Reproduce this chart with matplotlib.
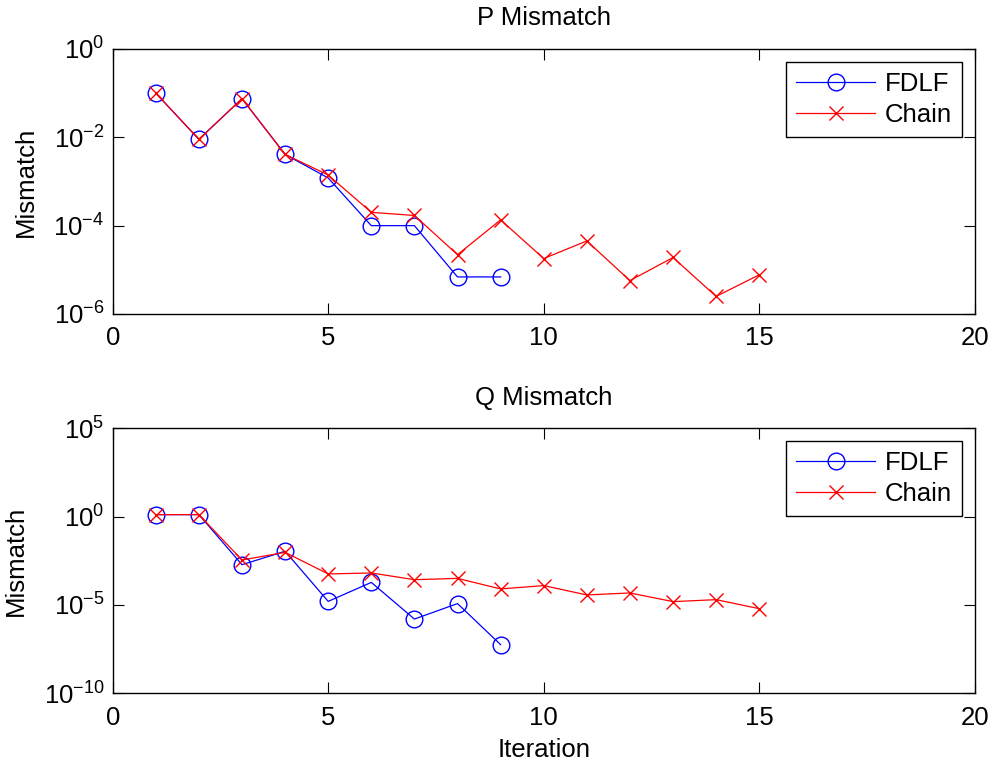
import matplotlib
matplotlib.use("Agg")
import matplotlib.pyplot as plt
import numpy as np

plt.rcParams['font.family'] = ['Liberation Sans', 'DejaVu Sans']
plt.rcParams['mathtext.fontset'] = 'custom'
plt.rcParams['mathtext.rm'] = 'Liberation Sans'
plt.rcParams['mathtext.it'] = 'Liberation Sans'
plt.rcParams['mathtext.default'] = 'regular'

# ---- data ----
p_fdlf_iter = [1, 2, 3, 4, 5, 6, 7, 8, 9]
p_fdlf = [0.1, 0.009, 0.075, 0.0041, 0.0012, 1.0e-4, 1.0e-4, 6.9e-6, 6.9e-6]
p_chain_iter = list(range(1, 16))
p_chain = [0.1, 0.009, 0.075, 0.0041, 0.0014, 2.0e-4, 1.7e-4, 2.2e-5, 1.35e-4,
           1.8e-5, 4.5e-5, 5.7e-6, 1.9e-5, 2.5e-6, 7.7e-6]

q_fdlf_iter = [1, 2, 3, 4, 5, 6, 7, 8, 9]
q_fdlf = [1.3, 1.3, 1.9e-3, 0.011, 1.6e-5, 1.9e-4, 1.6e-6, 1.2e-5, 5.7e-8]
q_chain_iter = list(range(1, 16))
q_chain = [1.3, 1.3, 3.5e-3, 9.5e-3, 5.7e-4, 6.5e-4, 2.7e-4, 3.2e-4, 8.1e-5,
           1.25e-4, 3.7e-5, 4.8e-5, 1.55e-5, 2.0e-5, 6.2e-6]

p_yticks = [1e0, 1e-2, 1e-4, 1e-6]
p_yticklabels = [r'$10^{0}$', r'$10^{-2}$', r'$10^{-4}$', r'$10^{-6}$']
q_yticks = [1e5, 1e0, 1e-5, 1e-10]
q_yticklabels = [r'$10^{5}$', r'$10^{0}$', r'$10^{-5}$', r'$10^{-10}$']
xticks = [0, 5, 10, 15, 20]

FS = 18.5
fig = plt.figure(figsize=(9.92, 7.63), dpi=100)
ax1 = fig.add_axes([0.1136, 0.5885, 0.869, 0.3473])
ax2 = fig.add_axes([0.1136, 0.0913, 0.869, 0.3474])

def style(ax, yticks, ylabels, ylim, title):
    ax.set_yscale('log')
    ax.set_xlim(0, 20)
    ax.set_ylim(*ylim)
    ax.set_xticks(xticks)
    ax.set_xticklabels([str(t) for t in xticks], fontsize=FS)
    ax.set_yticks(yticks)
    ax.set_yticklabels(ylabels, fontsize=FS)
    ax.minorticks_off()
    ax.tick_params(axis='both', which='both', direction='in', top=True, right=True,
                   length=8, width=0.8)
    ax.tick_params(axis='x', pad=9)
    ax.tick_params(axis='y', pad=6)
    for s in ax.spines.values():
        s.set_linewidth(1.0)
    ax.set_title(title, fontsize=FS, pad=17)
    ax.set_ylabel('Mismatch', fontsize=FS, labelpad=11)

ax1.plot(p_fdlf_iter, p_fdlf, color='#0000ff', lw=0.9, marker='o', ms=12,
         mfc='none', mec='#0000ff', mew=1.0, label='FDLF')
ax1.plot(p_chain_iter, p_chain, color='#ff0000', lw=0.9, marker='x', ms=10,
         mew=1.0, label='Chain')
style(ax1, p_yticks, p_yticklabels, (1e-6, 1e0), 'P Mismatch')

ax2.plot(q_fdlf_iter, q_fdlf, color='#0000ff', lw=0.9, marker='o', ms=12,
         mfc='none', mec='#0000ff', mew=1.0, label='FDLF')
ax2.plot(q_chain_iter, q_chain, color='#ff0000', lw=0.9, marker='x', ms=10,
         mew=1.0, label='Chain')
style(ax2, q_yticks, q_yticklabels, (1e-10, 1e5), 'Q Mismatch')
ax2.set_xlabel('Iteration', fontsize=FS, labelpad=6)

for ax in (ax1, ax2):
    leg = ax.legend(loc='upper right', fontsize=FS, numpoints=1, handlelength=3.1,
                    handletextpad=0.35, borderpad=0.4, labelspacing=0.25,
                    borderaxespad=0.5, fancybox=False, framealpha=1, edgecolor='black')
    leg.get_frame().set_linewidth(1.0)

fig.savefig('out.png', dpi=100)
